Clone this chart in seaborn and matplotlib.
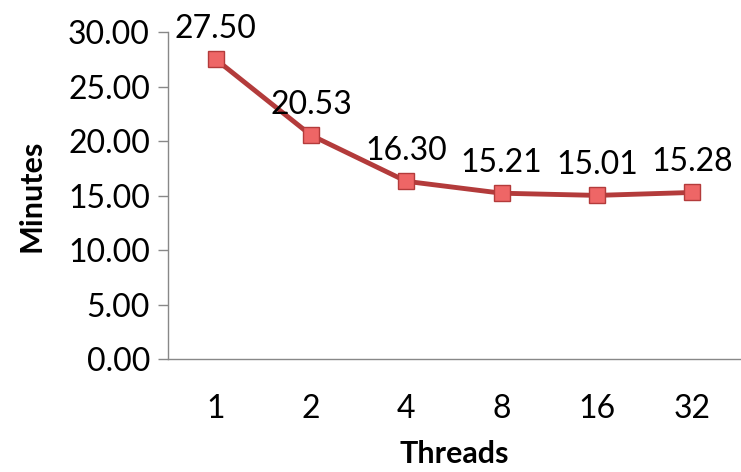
import matplotlib
matplotlib.use("Agg")
import matplotlib.pyplot as plt
import seaborn as sns
import pandas as pd
import numpy as np

threads = ["1", "2", "4", "8", "16", "32"]
minutes = [27.50, 20.53, 16.30, 15.21, 15.01, 15.28]
yticks = [0, 5, 10, 15, 20, 25, 30]

sns.set_style("white")
plt.rcParams['font.family'] = ['Lato', 'DejaVu Sans']
plt.rcParams['text.color'] = 'black'
plt.rcParams['xtick.labelcolor'] = 'black'
plt.rcParams['ytick.labelcolor'] = 'black'
plt.rcParams['axes.labelcolor'] = 'black'

df = pd.DataFrame({"Threads": threads, "Minutes": minutes})
df["pos"] = np.arange(len(threads))

fig = plt.figure(figsize=(7.41, 4.72), dpi=100)
ax = fig.add_axes([0.2267, 0.2394, 0.772, 0.6928])

sns.lineplot(data=df, x="pos", y="Minutes", ax=ax, color="#B33B3B", linewidth=3.5,
             marker="s", markersize=11, markerfacecolor="#EE6666",
             markeredgecolor="#B33B3B", markeredgewidth=1.0)

for i, v in enumerate(minutes):
    ax.annotate(f"{v:.2f}", (i, v), xytext=(0, 11), textcoords="offset points",
                ha="center", va="bottom", fontsize=23, annotation_clip=False)

ax.set_xlim(-0.5, len(threads) - 0.5)
ax.set_ylim(0, 30)
ax.set_yticks(yticks)
ax.set_yticklabels([f"{t:.2f}" for t in yticks], fontsize=23)
ax.set_xticks(np.arange(len(threads)))
ax.set_xticklabels(threads, fontsize=23)
ax.set_xticks(np.arange(len(threads) + 1) - 0.5, minor=True)
ax.tick_params(axis="x", which="major", length=0, pad=25)
ax.tick_params(axis="x", which="minor", length=7, width=1, color="#888888", direction="out")
ax.tick_params(axis="y", length=7, width=1, color="#888888", direction="out", left=True, pad=6)

for s in ["top", "right"]:
    ax.spines[s].set_visible(False)
for s in ["left", "bottom"]:
    ax.spines[s].set_color("#888888")
    ax.spines[s].set_linewidth(1)

ax.set_xlabel("Threads", fontsize=22, fontweight="bold", labelpad=12)
ax.set_ylabel("Minutes", fontsize=22, fontweight="bold", labelpad=16)

fig.savefig("out.png", dpi=100)
